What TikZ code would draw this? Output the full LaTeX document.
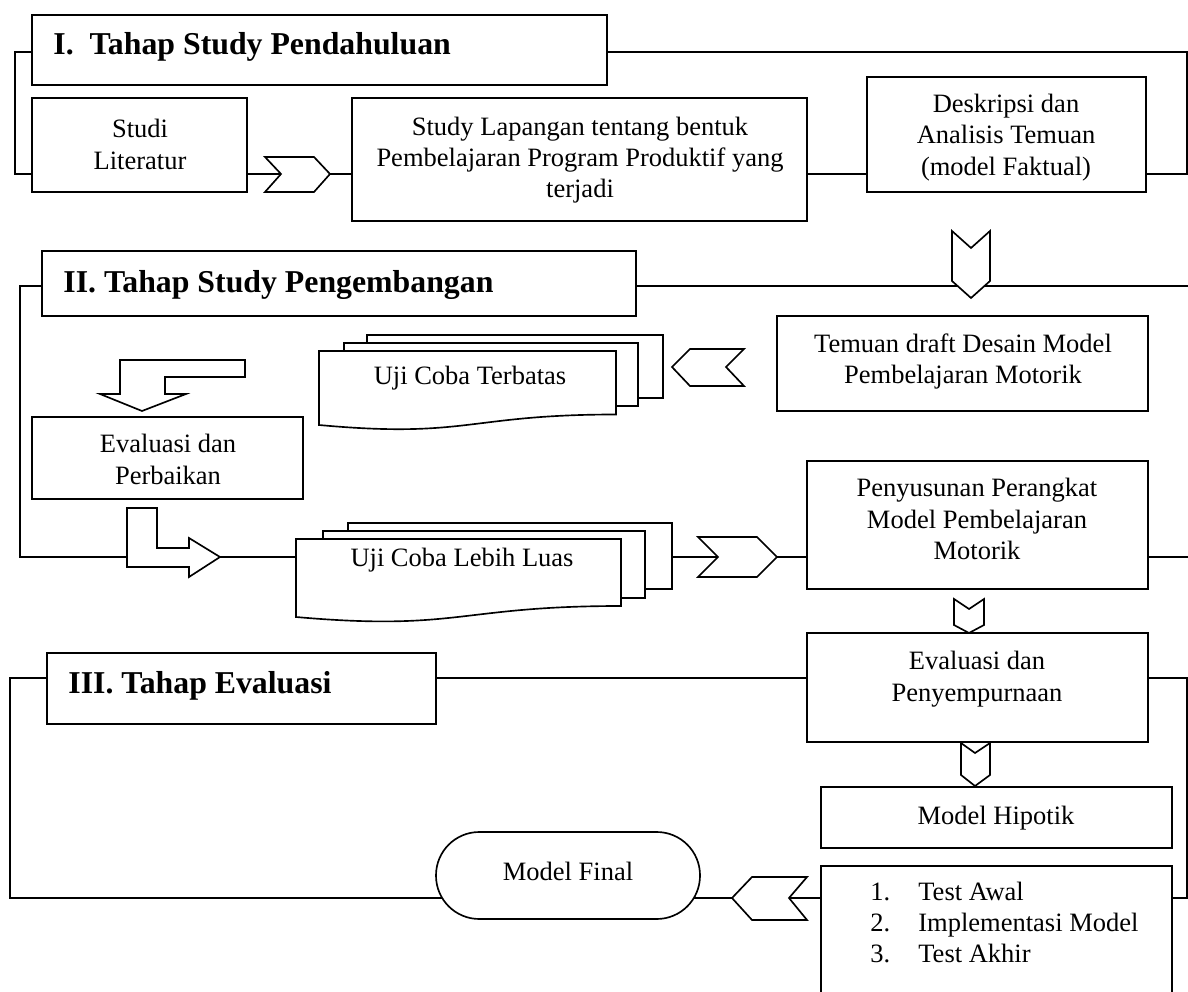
\documentclass[tikz,border=0pt]{standalone}
\usepackage{fontspec}
\setmainfont{Liberation Serif}
\usetikzlibrary{fit}
\pgfdeclarelayer{bg}
\pgfsetlayers{bg,main}
\tikzset{
  box/.style={draw, line width=0.75pt, fill=white, inner sep=0pt},
  txt/.style={align=center, font=\fontsize{12}{14.2}\selectfont, inner sep=0pt},
  head/.style={font=\fontsize{14.4}{17}\selectfont\bfseries, inner sep=0pt},
  conn/.style={line width=0.75pt},
  shp/.style={draw, line width=0.75pt, fill=white, line join=miter},
}
\begin{document}
\begin{tikzpicture}[x=0.4528pt,y=-0.4528pt]
\useasboundingbox (0,0) rectangle (1188,992);
\clip (0,0) rectangle (1188,992);

% helper coordinates
\coordinate (y1) at (0,52);
\coordinate (y2) at (0,286);
\coordinate (y3) at (0,678);
\coordinate (RE) at (1187,0);
\coordinate (RX) at (1195,0);

% boxes
\node[box, fit={(32,15) (607,85)}] (h1) {};
\node[box, fit={(32,98) (247,192)}] (studi) {};
\node[box, fit={(352,98) (807,221)}] (slap) {};
\node[box, fit={(867,77) (1146,192)}] (desk) {};
\node[box, fit={(42,251) (636,316)}] (h2) {};
\node[box, fit={(777,316) (1148,411)}] (temuan) {};
\node[box, fit={(32,417) (303,499)}] (evpb) {};
\node[box, fit={(807,461) (1148,589)}] (peny) {};
\node[box, fit={(47,653) (436,724)}] (h3) {};
\node[box, fit={(807,633) (1148,742)}] (evp) {};
\node[box, fit={(821,787) (1172,848)}] (mh) {};
\node[box, fit={(436,832) (700,919)}, rounded corners=19.6pt] (mf) {};
\node[box, fit={(821,866) (1172,1010)}] (tb) {};

% document stack: Uji Coba Terbatas
\draw[shp] (367,335) rectangle (663,398);
\draw[shp] (344,343) rectangle (638,406);
\draw[shp] (319,351) -- (616,351) -- (616,414.5)
  .. controls (467.5,414.5) and (467.5,438.7) .. (319,425) -- cycle;
% document stack: Uji Coba Lebih Luas
\draw[shp] (348,523) rectangle (672,589);
\draw[shp] (323,531) rectangle (645,598);
\draw[shp] (296,539) -- (621,539) -- (621,606)
  .. controls (458.5,606) and (458.5,631.4) .. (296,617) -- cycle;
\coordinate (lfl) at (296,557);
\coordinate (lfr) at (672,557);

% chevrons
\coordinate (c1n) at (281,174); \coordinate (c1t) at (330,174);
\draw[shp] (265,157) -- (314,157) -- (c1t) -- (314,192) -- (265,192) -- (c1n) -- cycle;
\draw[shp] (952,231) -- (971,248) -- (990,231) -- (990,281) -- (971,298) -- (952,281) -- cycle;
\draw[shp] (672,367) -- (690,349) -- (744,349) -- (726,367) -- (744,386) -- (690,386) -- cycle;
\coordinate (c3n) at (718,557); \coordinate (c3t) at (777,557);
\draw[shp] (698,537) -- (757,537) -- (c3t) -- (757,577) -- (698,577) -- (c3n) -- cycle;
\coordinate (c4t) at (732,898); \coordinate (c4n) at (789,898);
\draw[shp] (c4t) -- (752,877) -- (807,877) -- (c4n) -- (807,920) -- (752,920) -- cycle;
\draw[shp] (954,599) -- (969,609) -- (984,599) -- (984,625) -- (969,633) -- (954,625) -- cycle;
\draw[shp] (961,743) -- (975,753) -- (990,743) -- (990,775) -- (975,786) -- (961,775) -- cycle;

% bent arrows
\draw[shp] (245,360) -- (120,360) -- (120,394) -- (100,394) -- (142,411) -- (186,394)
  -- (165,394) -- (165,377) -- (245,377) -- cycle;
\draw[shp] (127,508) -- (157,508) -- (157,548) -- (189,548) -- (189,538) -- (220,557)
  -- (189,577) -- (189,567) -- (127,567) -- cycle;

% texts
\node[head, anchor=base west] at (53,55) {I.\ \ Tahap Study Pendahuluan};
\node[head, anchor=base west] at (63,293) {II. Tahap Study Pengembangan};
\node[head, anchor=base west] at (68,693) {III. Tahap Evaluasi};
\node[txt] at (140,144.5) {Studi\\Literatur};
\node[txt] at (580,160) {Study Lapangan tentang bentuk\\Pembelajaran Program Produktif yang\\terjadi};
\node[txt] at (1006,137.5) {Deskripsi dan\\Analisis Temuan\\(model Faktual)};
\node[txt] at (963,361.5) {Temuan draft Desain Model\\Pembelajaran Motorik};
\node[txt] at (470,378) {Uji Coba Terbatas};
\node[txt] at (168,459.5) {Evaluasi dan\\Perbaikan};
\node[txt] at (462,560) {Uji Coba Lebih Luas};
\node[txt] at (977,519) {Penyusunan Perangkat\\Model Pembelajaran\\Motorik};
\node[txt] at (977,679) {Evaluasi dan\\Penyempurnaan};
\node[txt] at (996,818) {Model Hipotik};
\node[txt] at (568,871) {Model Final};
\node[txt, align=left, anchor=west] at (870,922.5)
  {\makebox[21.7pt][l]{1.}Test Awal\\\makebox[21.7pt][l]{2.}Implementasi Model\\\makebox[21.7pt][l]{3.}Test Akhir};

% connectors
\begin{pgfonlayer}{bg}
\draw[conn] (h1.west |- y1) -- ++(-16,0) |- (studi.west |- c1n);
\draw[conn] (studi.east |- c1n) -- (c1n);
\draw[conn] (c1t) -- (slap.west |- c1t);
\draw[conn] (slap.east |- c1t) -- (desk.west |- c1t);
\draw[conn] (h1.east |- y1) -- (RE |- y1) |- (desk.east |- c1t);
\draw[conn] (h2.west |- y2) -- ++(-21,0) |- (lfl);
\draw[conn] (h2.east |- y2) -- (RX |- y2);
\draw[conn] (lfr) -- (c3n);
\draw[conn] (c3t) -- (peny.west |- c3t);
\draw[conn] (peny.east |- c3t) -- (RX |- c3t);
\draw[conn] (h3.west |- y3) -- ++(-36,0) |- (c4t);
\draw[conn] (h3.east |- y3) -- (evp.west |- y3);
\draw[conn] (evp.east |- y3) -- (RE |- y3) |- (tb.east |- c4n);
\draw[conn] (c4n) -- (tb.west |- c4n);
\end{pgfonlayer}
\end{tikzpicture}
\end{document}
